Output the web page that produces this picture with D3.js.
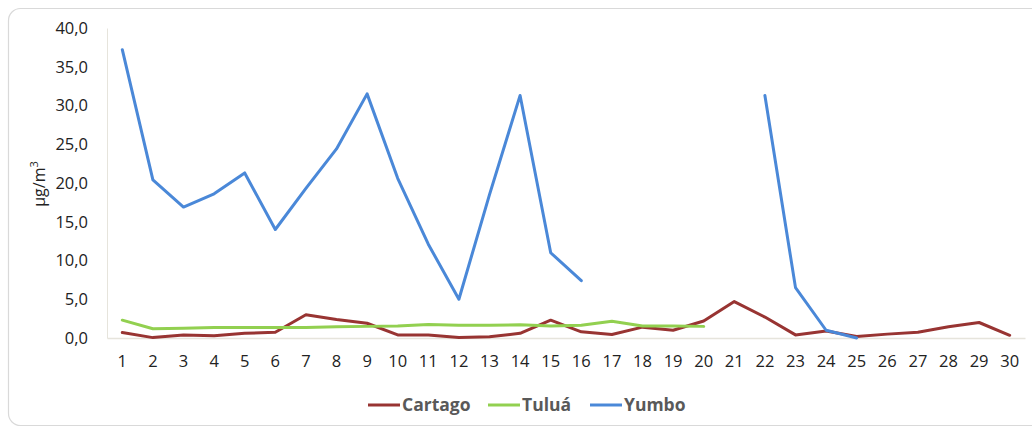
<!DOCTYPE html>
<html><head><meta charset="utf-8">
<script src="https://cdn.jsdelivr.net/npm/d3@7"></script>
<style>body{margin:0;background:#fff;}svg{display:block;}</style>
</head><body>
<svg id="c" width="1032" height="428"></svg>
<script>
const categories = d3.range(1, 31).map(String);
const cartago = [0.7,0.05,0.4,0.3,0.6,0.75,3.0,2.4,1.9,0.4,0.4,0.05,0.15,0.6,2.3,0.8,0.45,1.4,1.0,2.2,4.7,2.7,0.4,0.9,0.2,0.5,0.75,1.45,2.0,0.35];
const tulua = [2.3,1.2,1.25,1.35,1.35,1.35,1.35,1.45,1.5,1.55,1.75,1.65,1.65,1.7,1.55,1.65,2.15,1.55,1.55,1.5,null,null,null,null,null,null,null,null,null,null];
const yumbo = [37.2,20.4,16.9,18.6,21.3,14.0,19.3,24.4,31.5,20.6,12.1,5.0,18.5,31.3,11.0,7.4,null,null,null,null,null,31.3,6.5,1.0,0.0,null,null,null,null,null];
const yTicks = [0,5,10,15,20,25,30,35,40];
const seriesNames = ["Cartago","Tuluá","Yumbo"];
const seriesColors = ["#983432","#92D050","#4A88D8"];
const seriesData = [cartago, tulua, yumbo];

const svg = d3.select("#c");
svg.append("rect").attr("x",8.5).attr("y",8.5).attr("width",1040).attr("height",417)
  .attr("rx",12).attr("fill","#fff").attr("stroke","#d9d9d9").attr("stroke-width",1.2);

const x = d3.scaleBand().domain(categories).range([107,1025]);
const y = d3.scaleLinear().domain([0,40]).range([338,28]);
const font = "'Open Sans', sans-serif";

// y axis
const ya = svg.append("g").attr("transform","translate(107,0)")
  .call(d3.axisLeft(y).tickValues(yTicks).tickSize(0).tickPadding(19)
  .tickFormat(d => d3.format(".1f")(d).replace(".", ",")));
ya.select(".domain").attr("stroke","#e6e4dc").attr("stroke-width",1);
ya.selectAll("text").attr("font-family",font).attr("font-size",16.5).attr("fill","#222");

// x axis
const xa = svg.append("g").attr("transform","translate(0,338)")
  .call(d3.axisBottom(x).tickSize(0).tickPadding(17));
xa.select(".domain").attr("stroke","#e6e4dc").attr("stroke-width",1.5);
xa.selectAll("text").attr("font-family",font).attr("font-size",16.5).attr("fill","#222");

// y title
svg.append("text").attr("transform","translate(45,184) rotate(-90)")
  .attr("text-anchor","middle").attr("font-family",font).attr("font-size",16).attr("fill","#222")
  .html('μg/m<tspan dy="-7" font-size="11">3</tspan>');

const line = d3.line().defined(d => d != null)
  .x((d,i) => x(categories[i]) + x.bandwidth()/2).y(d => y(d));
seriesData.forEach((s, k) => {
  svg.append("path").datum(s).attr("d", line).attr("fill","none")
    .attr("stroke", seriesColors[k]).attr("stroke-width",3).attr("stroke-linejoin","round").attr("stroke-linecap","round");
});

// legend
const lgX = [368, 488, 590];
seriesNames.forEach((n,k) => {
  const g = svg.append("g").attr("transform",`translate(${lgX[k]},405)`);
  g.append("line").attr("x1",0).attr("x2",32).attr("stroke",seriesColors[k]).attr("stroke-width",3);
  g.append("text").attr("x",34).attr("y",6).attr("font-family",font).attr("font-size",17.5)
    .attr("font-weight","bold").attr("fill","#595959").text(n);
});
</script>
</body></html>
